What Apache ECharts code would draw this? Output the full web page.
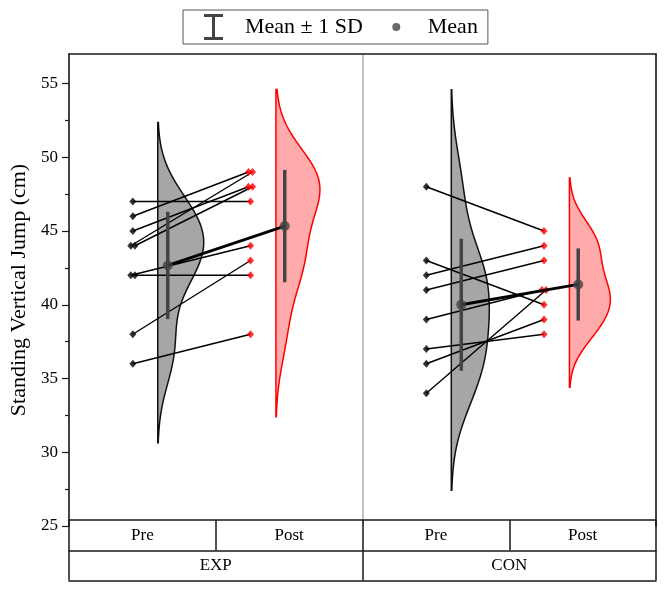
<!DOCTYPE html>
<html><head><meta charset="utf-8">
<script src="https://cdn.jsdelivr.net/npm/echarts@6/dist/echarts.min.js"></script>
<style>html,body{margin:0;padding:0;background:#fff}#c{width:670px;height:594px}</style>
</head><body><div id="c"></div>
<script>
// ---- data ----
const groups = ['EXP', 'CON'];
const phases = ['Pre', 'Post', 'Pre', 'Post'];
const yTicks = [25, 30, 35, 40, 45, 50, 55];
const yMinorTicks = [27.5, 32.5, 37.5, 42.5, 47.5, 52.5];
const expPre  = [47, 46, 45, 44, 44, 42, 42, 38, 36];
const expPost = [47, 49, 48, 49, 48, 44, 42, 43, 38];
const conPre  = [48, 43, 42, 41, 39, 37, 36, 34];
const conPost = [45, 40, 44, 43, 41, 38, 39, 41];

// ---- layout / style constants ----
const FONT = 'Liberation Serif';
const PRE_PT = 0.435, POST_PT = 1.237, PRE_VIO = 0.605, POST_VIO = 1.41, PRE_BAR = 0.673, POST_BAR = 1.47;
const VIO_W = [[0.313, 0.300], [0.259, 0.279]];
const JIT = 0.028;
const LINE = '#1a1a1a';

function mean(a){ return a.reduce((s,v)=>s+v,0)/a.length; }
function sd(a){ const m=mean(a); return Math.sqrt(a.reduce((s,v)=>s+(v-m)*(v-m),0)/(a.length-1)); }
function jitter(a){
  return a.map((v,i)=>{ const same=a.map((w,j)=>[w,j]).filter(p=>p[0]===v); const k=same.length; const idx=same.findIndex(p=>p[1]===i); return (idx-(k-1)/2)*JIT; });
}
function violinPoly(vals, center, maxW){
  const s=sd(vals), bw=0.6*s;
  const lo=Math.min(...vals)-2.45*bw, hi=Math.max(...vals)+2.45*bw;
  const N=160, ys=[], ds=[];
  for(let i=0;i<=N;i++){ const y=lo+(hi-lo)*i/N; let d=0; for(const v of vals){ const z=(y-v)/bw; d+=Math.exp(-0.5*z*z);} ys.push(y); ds.push(d); }
  const dm=Math.max(...ds);
  const pts=[[center,lo]];
  for(let i=0;i<=N;i++) pts.push([center+ds[i]/dm*maxW, ys[i]]);
  pts.push([center,hi]);
  return pts;
}

const sets = [[expPre, expPost], [conPre, conPost]];
const violins = [], violinStyle = [];
const pairLines = [], prePts = [], postPts = [], bars = [], means = [], meanLines = [];
sets.forEach((pp, g)=>{
  const off = g*2;
  const [pre, post] = pp;
  violins.push(violinPoly(pre, off+PRE_VIO, VIO_W[g][0])); violinStyle.push({fill:'#a6a6a6', stroke:'#111'});
  violins.push(violinPoly(post, off+POST_VIO, VIO_W[g][1])); violinStyle.push({fill:'rgba(255,0,0,0.33)', stroke:'#ff0000'});
  const jp = jitter(pre), jq = jitter(post);
  pre.forEach((v,i)=>{
    const x1=off+PRE_PT+jp[i], x2=off+POST_PT+jq[i];
    pairLines.push([x1, v, x2, post[i]]);
    prePts.push([x1, v]); postPts.push([x2, post[i]]);
  });
  const m1=mean(pre), m2=mean(post), s1=sd(pre), s2=sd(post);
  bars.push([off+PRE_BAR, m1-s1, m1+s1]); bars.push([off+POST_BAR, m2-s2, m2+s2]);
  means.push([off+PRE_BAR, m1]); means.push([off+POST_BAR, m2]);
  meanLines.push([off+PRE_BAR, m1, off+POST_BAR, m2]);
});

const chart = echarts.init(document.getElementById('c'), null, {renderer:'canvas'});
const ibeam = 'path://M0,0H0.1V0.1Z M53,26H52.9V25.9Z M17,0H36V3H28V23H36V26H17V23H25V3H17Z';
const dot = 'path://M0,0H0.1V0.1Z M53,26H52.9V25.9Z M22.5,13A4,4,0,1,0,30.5,13A4,4,0,1,0,22.5,13Z';

const option = {
  backgroundColor:'#fff',
  animation:false,
  textStyle:{fontFamily:FONT},
  legend:{
    left:183, top:10, orient:'horizontal',
    padding:[4,10,4,4], itemGap:7, itemWidth:53, itemHeight:26,
    borderColor:'#555', borderWidth:1, selectedMode:false,
    textStyle:{fontSize:22, fontFamily:FONT, color:'#000'},
    data:[{name:'Mean ± 1 SD', icon:ibeam, itemStyle:{color:'#444'}}, {name:'Mean', icon:dot, itemStyle:{color:'#444'}}]
  },
  grid:{left:69, right:14, top:54, bottom:68, containLabel:false},
  xAxis:[
    {type:'value', min:0, max:4, interval:2, position:'bottom', axisLine:{show:false}, axisTick:{show:false}, axisLabel:{show:false},
     splitLine:{show:true, lineStyle:{color:'#b0b0b0', width:1.5}}},
    {type:'category', position:'bottom', offset:-6, data:phases,
     axisLine:{show:true, lineStyle:{color:LINE, width:1.5}},
     axisTick:{show:true, interval:0, length:30.5, lineStyle:{color:LINE, width:1.5}},
     axisLabel:{margin:7, fontSize:17, color:'#000', fontFamily:FONT}, splitLine:{show:false}},
    {type:'category', position:'bottom', offset:24.5, data:groups,
     axisLine:{show:true, lineStyle:{color:LINE, width:1.5}},
     axisTick:{show:true, interval:0, length:30, lineStyle:{color:LINE, width:1.5}},
     axisLabel:{margin:7, fontSize:17, color:'#000', fontFamily:FONT}, splitLine:{show:false}},
    {type:'category', position:'bottom', offset:54.5, data:groups,
     axisLine:{show:true, lineStyle:{color:LINE, width:1.5}}, axisTick:{show:false}, axisLabel:{show:false}, splitLine:{show:false}},
    {type:'value', min:0, max:4, position:'top', axisLine:{show:true, lineStyle:{color:LINE, width:1.5}}, axisTick:{show:false}, axisLabel:{show:false}, splitLine:{show:false}}
  ],
  yAxis:[
    {type:'value', min:25, max:57, interval:5, position:'left',
     name:'Standing Vertical Jump (cm)', nameLocation:'middle', nameGap:34,
     nameTextStyle:{fontSize:22, fontFamily:FONT, color:'#000'},
     axisLine:{show:true, lineStyle:{color:LINE, width:1.5}},
     axisTick:{show:true, customValues:yTicks, length:7, lineStyle:{color:LINE, width:1.2}},
     axisLabel:{customValues:yTicks, fontSize:17, margin:11, color:'#000', fontFamily:FONT},
     splitLine:{show:false}},
    {type:'value', min:25, max:57, position:'left', axisLine:{show:false},
     axisTick:{show:true, customValues:yMinorTicks, length:4, lineStyle:{color:LINE, width:1.2}},
     axisLabel:{show:false}, splitLine:{show:false}},
    {type:'value', min:25, max:57, position:'right', axisLine:{show:true, lineStyle:{color:LINE, width:1.5}},
     axisTick:{show:false}, axisLabel:{show:false}, splitLine:{show:false}}
  ],
  series:[
    {type:'custom', name:'violin', xAxisIndex:0, yAxisIndex:0, z:1, silent:true,
     data:violins.map((_,i)=>[i]),
     encode:{x:-1, y:-1},
     renderItem:function(params, api){
       const i = api.value(0);
       const pts = violins[i].map(p=>api.coord(p));
       return {type:'polygon', shape:{points:pts}, style:{fill:violinStyle[i].fill, stroke:violinStyle[i].stroke, lineWidth:1.5}};
     }},
    {type:'custom', name:'pairs', xAxisIndex:0, yAxisIndex:0, z:2, silent:true,
     data:pairLines, encode:{x:[0,2], y:[1,3]},
     renderItem:function(params, api){
       const a = api.coord([api.value(0), api.value(1)]), b = api.coord([api.value(2), api.value(3)]);
       return {type:'line', shape:{x1:a[0], y1:a[1], x2:b[0], y2:b[1]}, style:{stroke:'#000', lineWidth:1.4}};
     }},
    {type:'scatter', name:'PrePts', xAxisIndex:0, yAxisIndex:0, z:3, symbol:'diamond', symbolSize:[7,8],
     itemStyle:{color:'#000'}, data:prePts},
    {type:'scatter', name:'PostPts', xAxisIndex:0, yAxisIndex:0, z:3, symbol:'diamond', symbolSize:[7,8],
     itemStyle:{color:'#ff0000'}, data:postPts},
    {type:'custom', name:'Mean ± 1 SD', xAxisIndex:0, yAxisIndex:0, z:4, itemStyle:{color:'#444'},
     data:bars, encode:{x:0, y:[1,2]},
     renderItem:function(params, api){
       const a = api.coord([api.value(0), api.value(1)]), b = api.coord([api.value(0), api.value(2)]);
       return {type:'line', shape:{x1:a[0], y1:a[1], x2:b[0], y2:b[1]}, style:{stroke:'#444', lineWidth:3.5}};
     }},
    {type:'custom', name:'meanLine', xAxisIndex:0, yAxisIndex:0, z:5, silent:true,
     data:meanLines, encode:{x:[0,2], y:[1,3]},
     renderItem:function(params, api){
       const a = api.coord([api.value(0), api.value(1)]), b = api.coord([api.value(2), api.value(3)]);
       return {type:'line', shape:{x1:a[0], y1:a[1], x2:b[0], y2:b[1]}, style:{stroke:'#000', lineWidth:2.8}};
     }},
    {type:'scatter', name:'Mean', xAxisIndex:0, yAxisIndex:0, z:6, symbol:'circle', symbolSize:10,
     itemStyle:{color:'#444'}, data:means}
  ]
};
chart.setOption(option);
</script></body></html>
